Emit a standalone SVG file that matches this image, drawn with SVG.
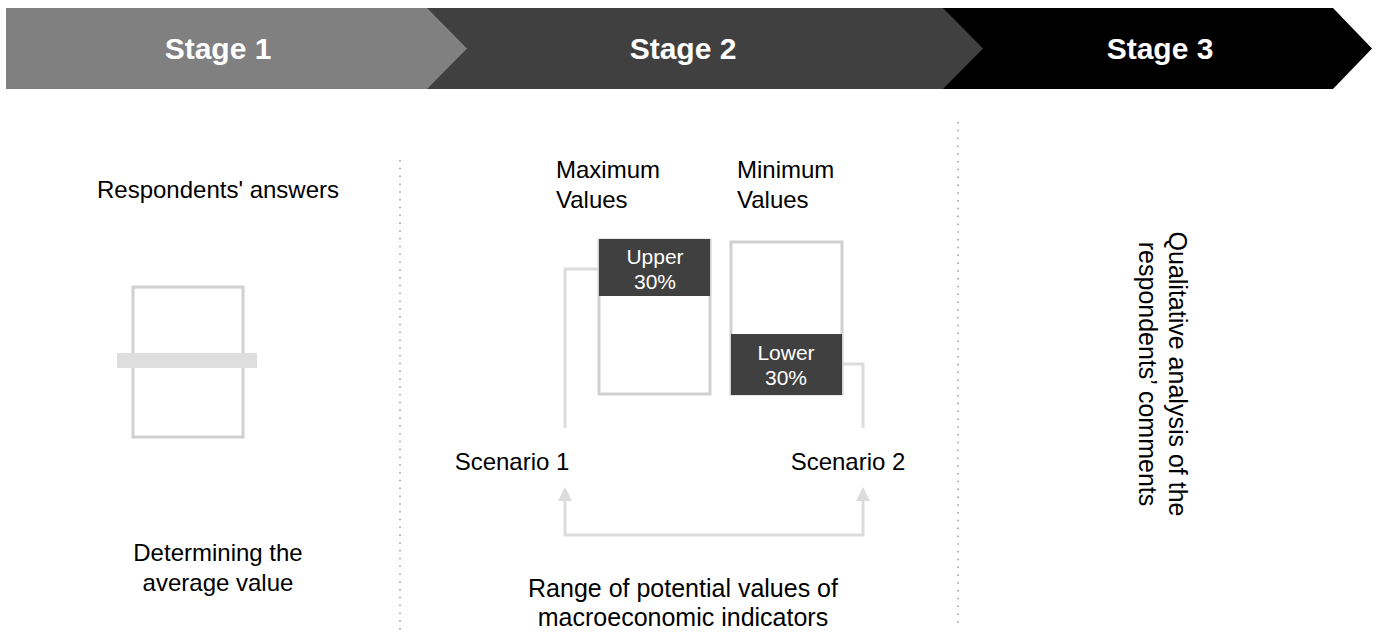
<svg xmlns="http://www.w3.org/2000/svg" width="1378" height="633" viewBox="0 0 1378 633">
<style>
.stage{font-family:"Liberation Sans",Arial,sans-serif;font-weight:bold;font-size:30px;fill:#fff;text-anchor:middle}
.lbl{font-family:"Liberation Sans",Arial,sans-serif;font-size:24px;fill:#000}
.s25{font-size:25px}
.mid{text-anchor:middle}
.box{fill:#fff;stroke:#d0d0d0;stroke-width:3}
.dark{fill:#404040}
.wt{font-family:"Liberation Sans",Arial,sans-serif;font-size:21px;fill:#fff;text-anchor:middle}
.conn{fill:none;stroke:#dcdcdc;stroke-width:3}
.dot{stroke:#999;stroke-width:1.5;stroke-dasharray:1.5 6.3}
</style>
<g id="banner">
<g id="stage3"><polygon points="943,8 1333,8 1372,48.5 1333,89 943,89" fill="#000"/><text class="stage" x="1160" y="59">Stage 3</text></g>
<g id="stage2"><polygon points="427,8 943,8 983,48.5 943,89 427,89" fill="#404040"/><text class="stage" x="683" y="59">Stage 2</text></g>
<g id="stage1"><polygon points="6,8 427,8 467,48.5 427,89 6,89" fill="#808080"/><text class="stage" x="218" y="59">Stage 1</text></g>
</g>
<g id="dividers">
<line class="dot" x1="400" y1="160" x2="400" y2="633"/>
<line class="dot" x1="958" y1="122" x2="958" y2="625"/>
</g>
<g id="connectors">
<path class="conn" d="M599,269 H565 V428"/>
<path class="conn" d="M842,364 H863 V428"/>
<path class="conn" d="M565,490 V535 H863 V490"/>
<path d="M558,501 L565,487 L572,501 Z" fill="#dcdcdc"/>
<path d="M856,501 L863,487 L870,501 Z" fill="#dcdcdc"/>
</g>
<g id="stage1-content">
<text class="lbl mid" x="218" y="198">Respondents' answers</text>
<g id="avg-box">
<rect class="box" x="133" y="287" width="110" height="150"/>
<rect x="117" y="353" width="140" height="15" fill="#dedede"/>
</g>
<text class="lbl mid" x="218" y="561">Determining the</text>
<text class="lbl mid" x="218" y="591">average value</text>
</g>
<g id="stage2-content">
<text class="lbl" x="556" y="178">Maximum</text>
<text class="lbl" x="556" y="208">Values</text>
<text class="lbl" x="737" y="178">Minimum</text>
<text class="lbl" x="737" y="208">Values</text>
<g id="max-box">
<rect class="box" x="599" y="240" width="111" height="154"/>
<rect class="dark" x="599" y="239" width="111" height="57"/>
<text class="wt" x="655" y="264">Upper</text>
<text class="wt" x="655" y="289">30%</text>
</g>
<g id="min-box">
<rect class="box" x="731" y="242" width="111" height="152"/>
<rect class="dark" x="731" y="334" width="111" height="61"/>
<text class="wt" x="786" y="360">Lower</text>
<text class="wt" x="786" y="385">30%</text>
</g>
<text class="lbl mid" x="512" y="470">Scenario 1</text>
<text class="lbl mid" x="848" y="470">Scenario 2</text>
<text class="lbl s25 mid" x="683" y="597">Range of potential values of</text>
<text class="lbl s25 mid" x="683" y="626">macroeconomic indicators</text>
</g>
<g id="stage3-content" transform="translate(1160,374) rotate(90)">
<text class="lbl s25 mid" x="0" y="-9">Qualitative analysis of the</text>
<text class="lbl s25 mid" x="0" y="21">respondents’ comments</text>
</g>
</svg>
